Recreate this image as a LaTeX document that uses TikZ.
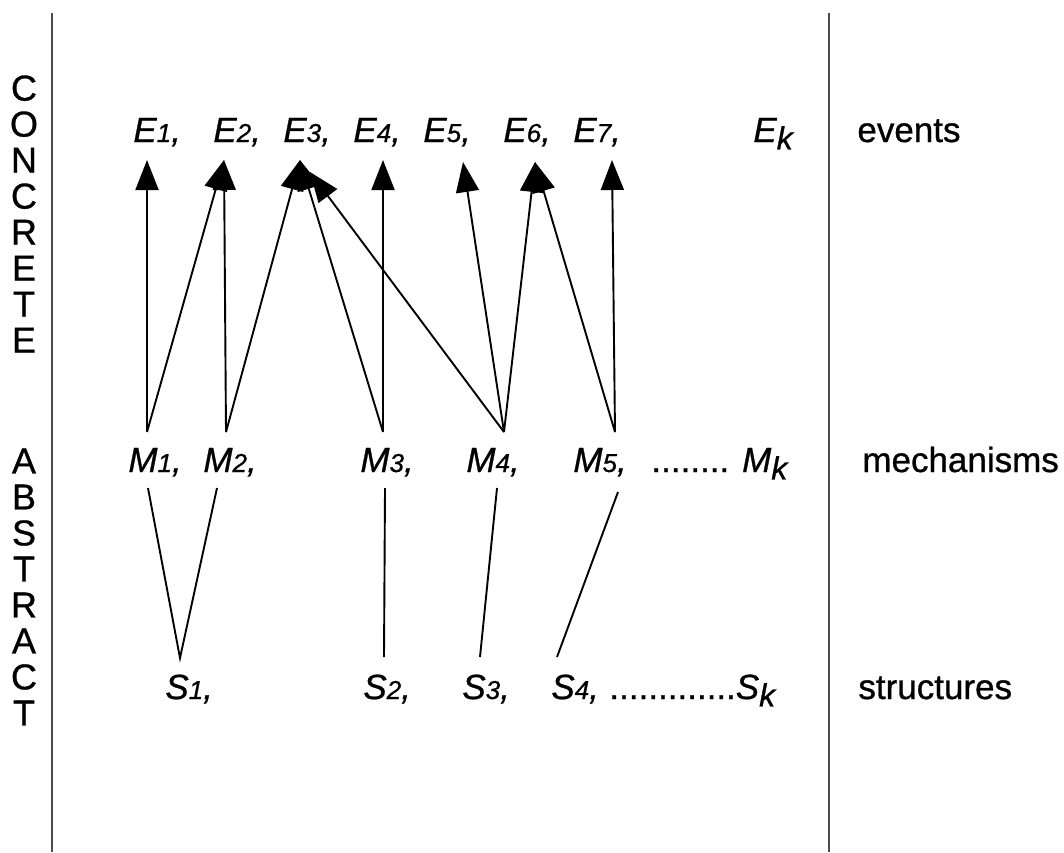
\documentclass[tikz,border=0pt]{standalone}
\usepackage{fontspec}
\setmainfont{Liberation Sans}[FakeBold=0.8]
\usetikzlibrary{arrows.meta}

\newcommand{\itemfont}{\fontsize{17.5}{20}\selectfont\itshape}
\newcommand{\sidefont}{\fontsize{17.5}{20}\selectfont}
\newcommand{\ix}[2]{#1{\fontsize{13}{13}\selectfont #2},}
\newcommand{\lowk}[1]{#1\raisebox{-0.4ex}{\fontsize{16}{16}\selectfont\itshape k}}

\tikzset{
  lbl/.style={anchor=base west, inner sep=0pt, font=\itemfont},
  side/.style={anchor=base west, inner sep=0pt, font=\sidefont},
  stack/.style={align=center, inner sep=0pt, font=\fontsize{18}{18}\selectfont},
  link/.style={line width=0.95pt},
  arr/.style={link, -{Triangle[length=15pt,width=11.5pt]}},
  rule/.style={line width=1.2pt, black!70},
}

\begin{document}
\begin{tikzpicture}[x=0.5pt,y=-0.5pt]
	\useasboundingbox (0,0) rectangle (1064,852);
	\draw [rule] (52,13) -- (52,852);
	\draw [rule] (829,13) -- (829,852);
	\node [stack] (concrete) at (24,214) {C\\O\\N\\C\\R\\E\\T\\E};
	\node [stack] (abstract) at (24,587) {A\\B\\S\\T\\R\\A\\C\\T};
	% events
	\node [lbl] (E1) at (133,142) {\ix{E}{1}};
	\node [lbl] (E2) at (213,142) {\ix{E}{2}};
	\node [lbl] (E3) at (283,142) {\ix{E}{3}};
	\node [lbl] (E4) at (353,142) {\ix{E}{4}};
	\node [lbl] (E5) at (423,142) {\ix{E}{5}};
	\node [lbl] (E6) at (503,142) {\ix{E}{6}};
	\node [lbl] (E7) at (573,142) {\ix{E}{7}};
	\node [lbl] (Ek) at (753,142) {\lowk{E}};
	\node [side] (events) at (857,142) {events};
	% mechanisms
	\node [lbl] (M1) at (128,472) {\ix{M}{1}};
	\node [lbl] (M2) at (203,472) {\ix{M}{2}};
	\node [lbl] (M3) at (360,472) {\ix{M}{3}};
	\node [lbl] (M4) at (466,472) {\ix{M}{4}};
	\node [lbl] (M5) at (573,472) {\ix{M}{5}};
	\node [lbl] (Mk) at (651,472) {\upshape........ \itshape\lowk{M}};
	\node [side] (mechanisms) at (862,472) {mechanisms};
	% structures
	\node [lbl] (S1) at (165,699) {\ix{S}{1}};
	\node [lbl] (S2) at (363,699) {\ix{S}{2}};
	\node [lbl] (S3) at (462,699) {\ix{S}{3}};
	\node [lbl] (S4) at (551,699) {\ix{S}{4}};
	\node [lbl] (Sk) at (609,699) {\upshape.............\itshape\lowk{S}};
	\node [side] (structures) at (858,699) {structures};
	% arrow ends
	\coordinate (e1) at (147,160);
	\coordinate (e2) at (224,160);
	\coordinate (e3) at (300,160);
	\coordinate (e3b) at (310,172);
	\coordinate (e4) at (383,160);
	\coordinate (e5) at (463,162);
	\coordinate (e6) at (535,162);
	\coordinate (e7) at (612,160);
	\coordinate (m1) at (147,432);
	\coordinate (m2) at (226,432);
	\coordinate (m3) at (383,432);
	\coordinate (m4) at (504,432);
	\coordinate (m5) at (615,432);
	\draw [arr] (m1) -- (e1);
	\draw [arr] (m1) -- (e2);
	\draw [arr] (m2) -- (e2);
	\draw [arr] (m2) -- (e3);
	\draw [arr] (m3) -- (e3);
	\draw [arr] (m3) -- (e4);
	\draw [arr] (m4) -- (e3b);
	\draw [arr] (m4) -- (e5);
	\draw [arr] (m4) -- (e6);
	\draw [arr] (m5) -- (e6);
	\draw [arr] (m5) -- (e7);
	% structures to mechanisms
	\coordinate (s1) at (180,658);
	\draw [link] (148,488) -- (s1) -- (217,488);
	\draw [link] (385,488) -- (384,657);
	\draw [link] (497,488) -- (480,657);
	\draw [link] (618,492) -- (557,657);
\end{tikzpicture}
\end{document}
